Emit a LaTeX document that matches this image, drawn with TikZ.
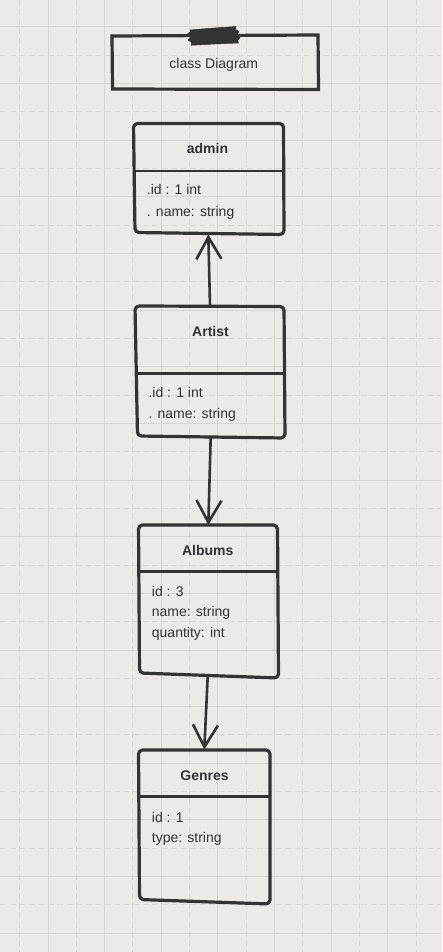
\documentclass[tikz,border=0pt]{standalone}
\usepackage{fontspec}
\setmainfont{Liberation Sans}
\usetikzlibrary{arrows.meta}
\definecolor{bg}{RGB}{236,234,231}
\definecolor{gridsolid}{RGB}{215,213,210}
\definecolor{griddash}{RGB}{219,217,214}
\definecolor{ink}{RGB}{51,51,51}
\begin{document}
\begin{tikzpicture}[x=1pt,y=-1pt,
  box/.style={draw=ink,line width=3.2pt,rounded corners=4pt,line join=round},
  titlebox/.style={draw=ink,line width=3.2pt,line join=miter},
  divider/.style={draw=ink,line width=2.6pt},
  tape/.style={fill=ink,draw=ink,line width=0.5pt,line join=round},
  gsolid/.style={draw=gridsolid,line width=1pt},
  gdash/.style={draw=griddash,line width=1pt,dash pattern=on 6pt off 3.5pt},
  classname/.style={font=\fontsize{14}{16}\selectfont\bfseries,text=ink,anchor=base,inner sep=0pt},
  attr/.style={font=\fontsize{14}{16}\selectfont,text=ink,anchor=base west,inner sep=0pt},
  caption/.style={font=\fontsize{14}{16}\selectfont,text=ink,anchor=base,inner sep=0pt},
  link/.style={draw=ink,line width=2.6pt,line cap=round,-{Straight Barb[length=22pt,width=25pt,line width=2.6pt]}}]
\useasboundingbox (0,0) rectangle (442,952);
\fill[bg] (0,0) rectangle (442,952);
% grid
\foreach \i in {0,...,7} \draw[gdash] ({19.7+56.64*\i},0) -- ({19.7+56.64*\i},952);
\foreach \i in {0,...,15} \draw[gdash] (0,{55.3+56.64*\i}) -- (442,{55.3+56.64*\i});
\foreach \i in {0,...,6} \draw[gsolid] ({48+56.64*\i},0) -- ({48+56.64*\i},952);
\foreach \i in {0,...,16} \draw[gsolid] (0,{27+56.64*\i}) -- (442,{27+56.64*\i});

% title box
\coordinate (t1) at (112,36);
\coordinate (t2) at (318,35);
\coordinate (t3) at (318.5,89.5);
\coordinate (t4) at (112.5,89);
\draw[titlebox] (t1) -- (t2) -- (t3) -- (t4) -- cycle;
\fill[tape] (190,30) -- (208,28.5) -- (222,27.5) -- (236,26.5) -- (235.5,29.5) -- (239,31.5) -- (237,34.5) -- (240,37.5) -- (237.5,40.5) -- (238.5,43) -- (215,44) -- (191,45.3) -- (191.5,42.3) -- (188,40) -- (190.5,37) -- (187.5,34) -- (190.5,31.5) -- cycle;
\node[caption] (cap) at (213.8,68.3) {class Diagram};

% admin
\coordinate (a1) at (133.5,123.5);
\coordinate (a2) at (283.5,123.5);
\coordinate (a3) at (284,234.5);
\coordinate (a4) at (135,232.5);
\draw[box] (a1) -- (a2) -- (a3) -- (a4) -- cycle;
\coordinate (adL) at (134,171);
\coordinate (adR) at (283.7,171);
\draw[divider] (adL) -- (adR);
\node[classname] (adminT) at (207.5,153.5) {admin};
\node[attr] (adminA1) at (146.7,194.3) {.id : 1 int};
\node[attr] (adminA2) at (146.7,216.5) {. name: string};
\coordinate (adminB) at (208.3,234.5);

% Artist
\coordinate (r1) at (135,306);
\coordinate (r2) at (284,306.5);
\coordinate (r3) at (285,438);
\coordinate (r4) at (137.5,436);
\draw[box] (r1) -- (r2) -- (r3) -- (r4) -- cycle;
\coordinate (arL) at (136,373.3);
\coordinate (arR) at (284.5,373.3);
\draw[divider] (arL) -- (arR);
\node[classname] (artistT) at (210.5,336.7) {Artist};
\node[attr] (artistA1) at (148.3,397.7) {.id : 1 int};
\node[attr] (artistA2) at (148.3,418.3) {. name: string};
\coordinate (artistTop) at (210,306.2);
\coordinate (artistBot) at (210.7,437);

% Albums
\coordinate (b1) at (138.5,525);
\coordinate (b2) at (277.5,525);
\coordinate (b3) at (278.5,678);
\coordinate (b4) at (139.5,673);
\draw[box] (b1) -- (b2) -- (b3) -- (b4) -- cycle;
\coordinate (alL) at (139,571.7);
\coordinate (alR) at (278,571.7);
\draw[divider] (alL) -- (alR);
\node[classname] (albumsT) at (207.8,555) {Albums};
\node[attr] (albumsA1) at (151.7,596.3) {id : 3};
\node[attr] (albumsA2) at (151.7,616.7) {name: string};
\node[attr] (albumsA3) at (151.7,637) {quantity: int};
\coordinate (albumsTop) at (208.3,525);
\coordinate (albumsBot) at (207.7,676.5);

% Genres
\coordinate (g1) at (138.5,750);
\coordinate (g2) at (270,750);
\coordinate (g3) at (270,904);
\coordinate (g4) at (139.5,899.5);
\draw[box] (g1) -- (g2) -- (g3) -- (g4) -- cycle;
\coordinate (geL) at (139,796.7);
\coordinate (geR) at (270,796.7);
\draw[divider] (geL) -- (geR);
\node[classname] (genresT) at (204.5,780.7) {Genres};
\node[attr] (genresA1) at (151.7,822) {id : 1};
\node[attr] (genresA2) at (151.7,842) {type: string};
\coordinate (genresTop) at (204.3,749.5);

% connectors
\draw[link] (artistTop) -- (adminB);
\draw[link] (artistBot) -- (albumsTop);
\draw[link] (albumsBot) -- (genresTop);
\end{tikzpicture}
\end{document}
